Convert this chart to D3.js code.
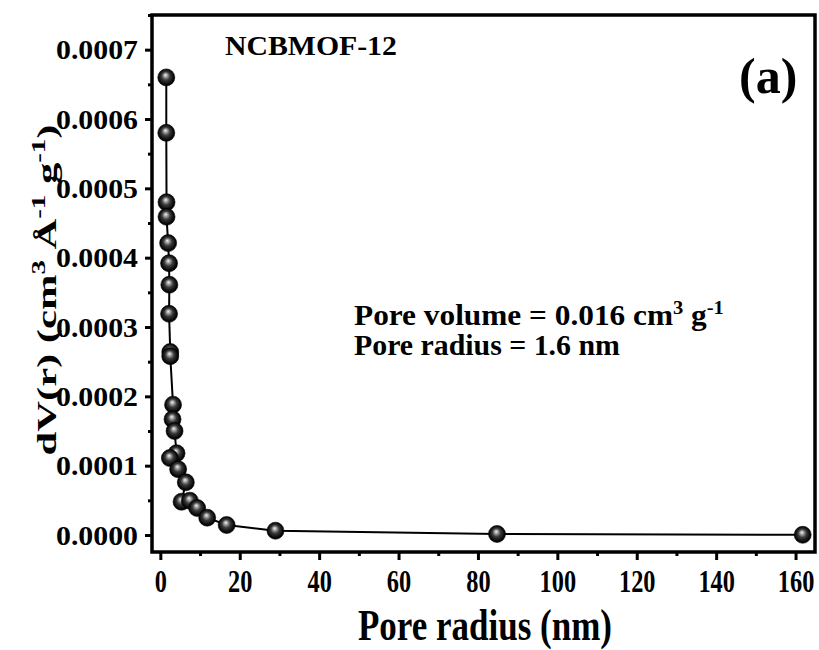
<!DOCTYPE html>
<html><head><meta charset="utf-8">
<script src="https://cdn.jsdelivr.net/npm/d3@7"></script>
<style>body{margin:0;background:#fff}svg{display:block}</style>
</head><body><svg id="c" width="819" height="650"></svg>
<script>
// Pore radius (nm) and dV(r) values
const radius = [1.5, 1.5, 1.56, 1.56, 1.96, 2.2, 2.27, 2.2, 2.5, 2.5, 3.2, 3.07, 3.58, 4.08, 2.4, 4.48, 6.42, 5.34, 7.43, 9.27, 11.8, 16.7, 29.0, 84.8, 161.8];
const dV = [0.00066, 0.00058, 0.00048, 0.000459, 0.000421, 0.000392, 0.000361, 0.000319, 0.000264, 0.000258, 0.000188, 0.000167, 0.00015, 0.000118, 0.000111, 0.000095, 0.000076, 0.000048, 0.0000495, 0.000039, 0.000025, 0.0000144, 0.0000062, 0.0000015, 0.0000003];
const xTickVals = [0, 20, 40, 60, 80, 100, 120, 140, 160];
const xMinorVals = [10, 30, 50, 70, 90, 110, 130, 150];
const yTickVals = [0, 0.0001, 0.0002, 0.0003, 0.0004, 0.0005, 0.0006, 0.0007];
const yMinorVals = [0.00005, 0.00015, 0.00025, 0.00035, 0.00045, 0.00055, 0.00065, 0.00075];
const sampleName = "NCBMOF-12";
const panelLabel = "(a)";

const svg = d3.select("#c");
const L = 152, R = 815, T = 15, B = 552;
const x = d3.scaleLinear().domain([-2.1, 164.9]).range([L, R]);
const y = d3.scaleLinear().domain([-0.0000245, 0.00075]).range([B, T]);
const serif = "'Liberation Serif','Times New Roman',serif";

// gradient for spheres
const defs = svg.append("defs");
const g1 = defs.append("radialGradient").attr("id","sph")
  .attr("cx","50%").attr("cy","50%").attr("r","55%").attr("fx","45%").attr("fy","35%");
[["0%","#f4f4f4"],["18%","#a8a8a8"],["45%","#3a3a3a"],["80%","#080808"],["100%","#000"]]
  .forEach(s=>g1.append("stop").attr("offset",s[0]).attr("stop-color",s[1]));

// axes
const xAxis = d3.axisBottom(x).tickValues(xTickVals).tickSize(8).tickFormat(d3.format("d"));
const xMinor = d3.axisBottom(x).tickValues(xMinorVals).tickSize(4).tickFormat("");
const yAxis = d3.axisLeft(y).tickValues(yTickVals).tickSize(7).tickFormat(d3.format(".4f"));
const yMinor = d3.axisLeft(y).tickValues(yMinorVals).tickSize(4).tickFormat("");

function styleAxis(g){
  g.select(".domain").remove();
  g.selectAll(".tick line").attr("stroke","#000").attr("stroke-width",3);
}
const gx = svg.append("g").attr("transform",`translate(0,${B})`).call(xAxis).call(styleAxis);
svg.append("g").attr("transform",`translate(0,${B})`).call(xMinor).call(styleAxis);
const gy = svg.append("g").attr("transform",`translate(${L},0)`).call(yAxis).call(styleAxis);
svg.append("g").attr("transform",`translate(${L},0)`).call(yMinor).call(styleAxis);

gx.selectAll(".tick text")
  .attr("font-family",serif).attr("font-weight","bold").attr("font-size",28)
  .attr("fill","#000").attr("dy",null).attr("y",40/1.12)
  .attr("transform","scale(0.87,1.12)");

gy.selectAll(".tick text")
  .attr("font-family",serif).attr("font-weight","bold").attr("font-size",27)
  .attr("fill","#000").attr("x",-14).attr("dy","0.34em")
  .attr("textLength",82).attr("lengthAdjust","spacingAndGlyphs");

// line and markers
const pts = radius.map((r,i)=>[r,dV[i]]);
svg.append("path").datum(pts)
  .attr("fill","none").attr("stroke","#000").attr("stroke-width",2)
  .attr("d", d3.line().x(d=>x(d[0])).y(d=>y(d[1])));
svg.append("g").selectAll("circle").data(pts).join("circle")
  .attr("cx",d=>x(d[0])).attr("cy",d=>y(d[1])).attr("r",8.5)
  .attr("fill","url(#sph)").attr("stroke","#000").attr("stroke-width",0.6);

// frame
svg.append("rect").attr("x",L).attr("y",T).attr("width",R-L).attr("height",B-T)
  .attr("fill","none").attr("stroke","#000").attr("stroke-width",3.5);

// helper: stretch a text horizontally (in its own frame) to a target width
function fitWidth(sel, target, baseTransform){
  const w = sel.node().getBBox().width;
  sel.attr("transform", `${baseTransform} scale(${target/w},1)`);
}

// axis titles
svg.append("text").attr("x",485).attr("y",640).attr("text-anchor","middle")
  .attr("font-family",serif).attr("font-weight","bold").attr("font-size",44)
  .attr("textLength",254).attr("lengthAdjust","spacingAndGlyphs")
  .text("Pore radius (nm)");

const yt = svg.append("text").attr("text-anchor","middle")
  .attr("font-family",serif).attr("font-weight","bold").attr("font-size",28);
yt.append("tspan").text("dV(r) (cm");
yt.append("tspan").attr("dy",-11).attr("font-size",19).text("3");
yt.append("tspan").attr("dy",11).text(" Å");
yt.append("tspan").attr("dy",-11).attr("font-size",19).text("-1");
yt.append("tspan").attr("dy",11).text(" g");
yt.append("tspan").attr("dy",-11).attr("font-size",19).text("-1");
yt.append("tspan").attr("dy",11).text(")");
fitWidth(yt, 331, "translate(56,290) rotate(-90)");

// annotations
const nm = svg.append("text").attr("x",0).attr("y",0)
  .attr("font-family",serif).attr("font-weight","bold").attr("font-size",28)
  .text(sampleName);
fitWidth(nm, 172, "translate(225,55)");
svg.append("text").attr("x",739).attr("y",93)
  .attr("font-family",serif).attr("font-weight","bold").attr("font-size",50)
  .text(panelLabel);

const a1 = svg.append("text").attr("x",0).attr("y",0)
  .attr("font-family",serif).attr("font-weight","bold").attr("font-size",29);
a1.append("tspan").text("Pore volume = 0.016 cm");
a1.append("tspan").attr("dy",-11).attr("font-size",19).text("3");
a1.append("tspan").attr("dy",11).text(" g");
a1.append("tspan").attr("dy",-11).attr("font-size",19).text("-1");
fitWidth(a1, 370, "translate(354,325)");
const a2 = svg.append("text").attr("x",0).attr("y",0)
  .attr("font-family",serif).attr("font-weight","bold").attr("font-size",29)
  .text("Pore radius = 1.6 nm");
fitWidth(a2, 266, "translate(354,355)");
</script></body></html>
